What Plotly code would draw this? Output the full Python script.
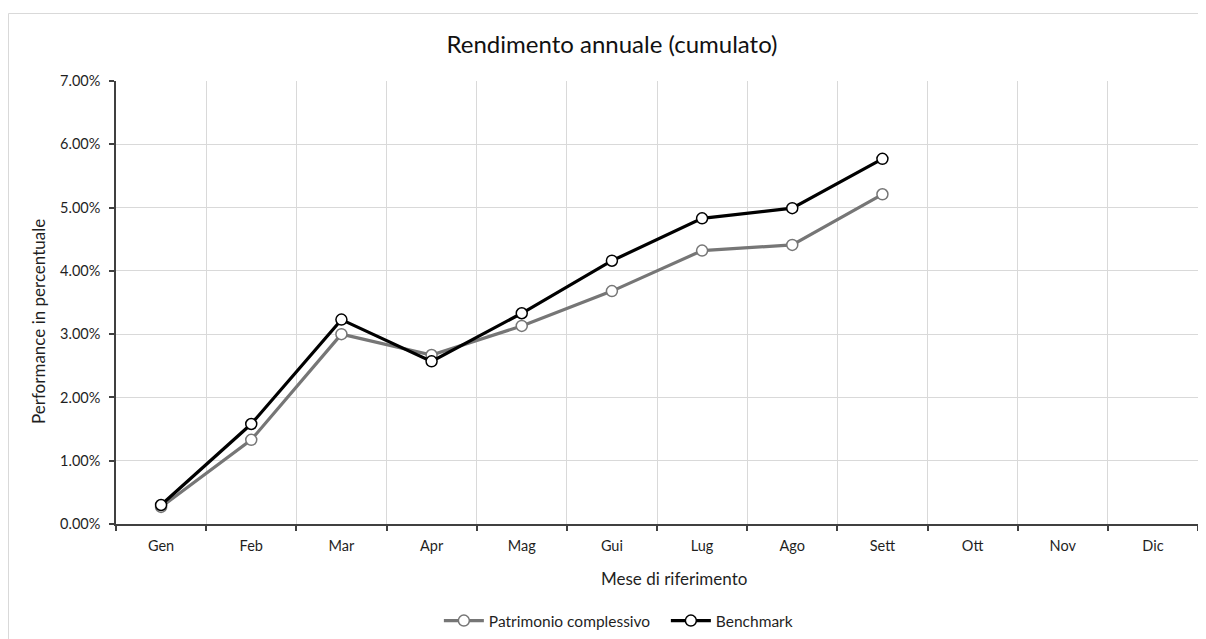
import plotly.graph_objects as go

months = ["Gen", "Feb", "Mar", "Apr", "Mag", "Gui", "Lug", "Ago", "Sett", "Ott", "Nov", "Dic"]
patrimonio = [0.27, 1.33, 3.00, 2.67, 3.13, 3.68, 4.32, 4.41, 5.21]
benchmark = [0.30, 1.58, 3.23, 2.57, 3.33, 4.16, 4.83, 4.99, 5.77]

FONT = "Lato, 'Open Sans', sans-serif"

W, H = 1198, 631
L, R, T, B = 108, 1190, 73, 516
PW, PH = R - L, B - T

fig = go.Figure()
fig.add_trace(go.Scatter(
    x=months[:len(patrimonio)], y=patrimonio, name="Patrimonio complessivo",
    mode="lines+markers",
    line=dict(color="#767676", width=3.2),
    marker=dict(symbol="circle", size=11, color="white", line=dict(color="#767676", width=1.5)),
))
fig.add_trace(go.Scatter(
    x=months[:len(benchmark)], y=benchmark, name="Benchmark",
    mode="lines+markers",
    line=dict(color="black", width=3.2),
    marker=dict(symbol="circle", size=11, color="white", line=dict(color="black", width=1.5)),
))

fig.update_layout(
    width=W, height=H,
    paper_bgcolor="white", plot_bgcolor="white",
    margin=dict(l=L, r=W - R, t=T, b=H - B, autoexpand=False),
    font=dict(family=FONT, size=14, color="#1f1f1f"),
    title=dict(text="Rendimento annuale (cumulato)", x=604 / W, xanchor="center",
               y=1 - 37 / H, yanchor="middle", font=dict(size=24, color="#111111")),
    showlegend=True,
    legend=dict(orientation="h", x=0.2984, xanchor="left", y=-(613 - B) / PH, yanchor="middle",
                font=dict(size=15.5, color="#1f1f1f"), itemwidth=40, tracegroupgap=0,
                entrywidth=172, entrywidthmode="pixels",
                bgcolor="rgba(0,0,0,0)"),
    xaxis=dict(
        type="category", categoryorder="array", categoryarray=months,
        range=[-0.5, 11.5], tickson="boundaries",
        showgrid=True, gridcolor="#d9d9d9", gridwidth=1,
        showline=True, linecolor="#404040", linewidth=1.5,
        ticks="outside", ticklen=5, tickcolor="#404040", tickwidth=1.5,
        tickfont=dict(size=14.5), fixedrange=True, zeroline=False, ticklabelstandoff=8,
    ),
    yaxis=dict(
        range=[0, 7], dtick=1, tickformat=".2f", ticksuffix="%",
        showgrid=True, gridcolor="#d9d9d9", gridwidth=1,
        showline=True, linecolor="#404040", linewidth=1.5,
        ticks="outside", ticklen=5, tickcolor="#404040", tickwidth=1.5,
        tickfont=dict(size=14.5), zeroline=False, ticklabelstandoff=6,
    ),
    annotations=[
        dict(text="Performance in percentuale", xref="paper", yref="paper",
             x=-(L - 30) / PW, y=1 - (314 - T) / PH, textangle=-90, showarrow=False,
             xanchor="center", yanchor="middle", font=dict(size=17)),
        dict(text="Mese di riferimento", xref="paper", yref="paper",
             x=(666 - L) / PW, y=-(570 - B) / PH, showarrow=False,
             xanchor="center", yanchor="middle", font=dict(size=17)),
    ],
    shapes=[
        dict(type="rect", xref="paper", yref="paper",
             x0=-(L - 0.5) / PW, x1=1 + 30 / PW,
             y0=-(660 - B) / PH, y1=1 + (T - 5.5) / PH,
             line=dict(color="#d9d9d9", width=1), layer="below"),
    ],
)

fig.write_html("out.html")
